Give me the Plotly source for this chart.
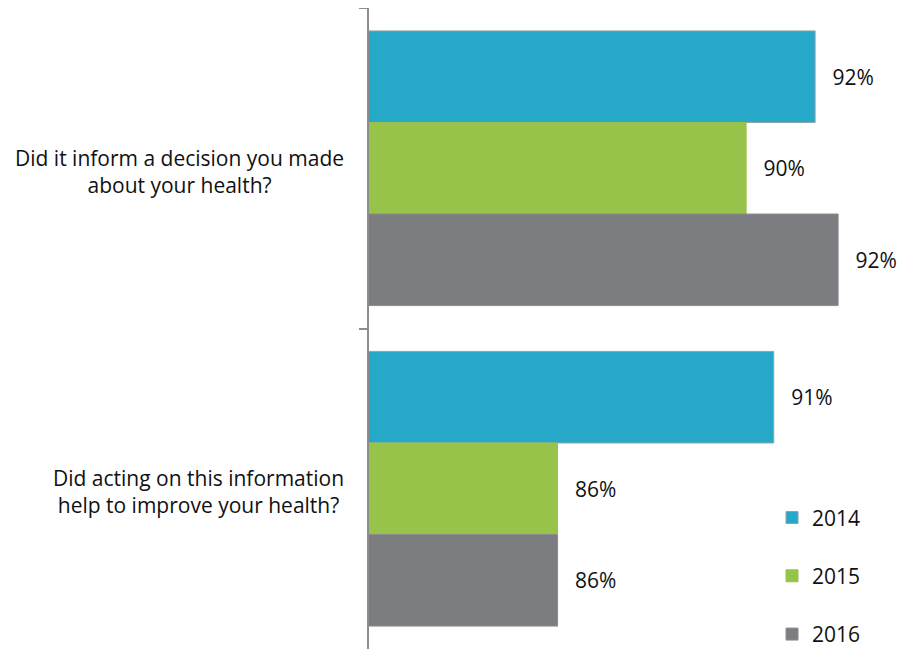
import plotly.graph_objects as go

categories = ["Did it inform a decision you made<br>about your health?",
              "Did acting on this information<br>help to improve your health?"]
years = ["2014", "2015", "2016"]
values_2014 = [91.7, 90.8]
values_2015 = [90.2, 86.1]
values_2016 = [92.2, 86.1]
labels_2014 = ["92%", "91%"]
labels_2015 = ["90%", "86%"]
labels_2016 = ["92%", "86%"]

series = [
    (years[0], values_2014, labels_2014, "#26A9C8", "#8FA3AA"),
    (years[1], values_2015, labels_2015, "#97C34A", "#97C34A"),
    (years[2], values_2016, labels_2016, "#7B7D81", "#8A8C90"),
]

FS = 21

fig = go.Figure()
for name, vals, labs, col, lcol in series:
    fig.add_trace(go.Bar(
        y=categories, x=vals, orientation="h", name=name,
        legendgroup=name,
        marker=dict(color=col, line=dict(color=lcol, width=1)),
        text=["\u00a0\u00a0\u2009" + t for t in labs],
        textposition="outside", cliponaxis=False,
        textfont=dict(size=FS, color="#111111"),
        hoverinfo="skip",
    ))

for c in categories:
    fig.add_annotation(
        x=0, xref="paper", y=c, yref="y", text=c, showarrow=False,
        xanchor="right", xshift=-23, yshift=-3, align="center",
        font=dict(size=FS, color="#111111"),
    )

fig.update_layout(
    width=906, height=641,
    margin=dict(l=361, r=0, t=0, b=0, autoexpand=False),
    paper_bgcolor="white", plot_bgcolor="white",
    barmode="group", bargap=0.143, bargroupgap=0,
    font=dict(family="Open Sans, sans-serif", size=FS, color="#111111"),
    showlegend=True,
    legend=dict(
        x=0.7395, y=0.2366, xanchor="left", yanchor="top",
        traceorder="grouped", tracegroupgap=28,
        font=dict(size=FS, color="#111111"),
        bgcolor="rgba(0,0,0,0)",
    ),
    xaxis=dict(range=[82, 93.85], visible=False, fixedrange=True),
    yaxis=dict(
        autorange="reversed", showticklabels=False,
        tickson="boundaries", ticks="outside", ticklen=8, tickwidth=2,
        tickcolor="#8C8C8C", showline=True, linecolor="#8C8C8C",
        linewidth=2, showgrid=False, zeroline=False,
    ),
)

fig.write_html("out.html")
